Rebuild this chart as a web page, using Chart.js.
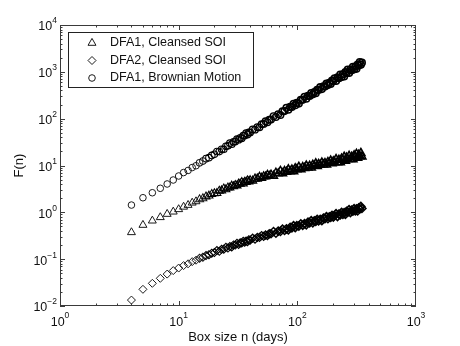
<!DOCTYPE html>
<html lang="en">
<head>
  <meta charset="UTF-8">
  <title>DFA – Box size vs F(n)</title>
  <script src="https://cdn.jsdelivr.net/npm/chart.js"></script>
  <style>
    html, body {
      margin: 0;
      padding: 0;
      background: #fff;
    }
    #wrap {
      width: 460px;
      height: 346px;
    }
  </style>
</head>
<body>
  <div id="wrap"><canvas id="dfaChart" width="460" height="346"></canvas></div>

  <script>
    // box sizes n (days)
    const boxSizes = [4, 5, 6, 7, 8, 9, 10, 11, 12, 13, 14, 15, 16, 17, 18, 19, 20,
      21, 22, 23, 24, 25, 26, 27, 28, 29, 30, 31, 32, 33, 34, 35, 36, 37, 38, 39, 40,
      42, 44, 46, 48, 50, 52, 54, 56, 58, 60,
      63, 66, 69, 72, 75, 78, 81, 84, 87, 90, 93, 96, 99,
      103, 107, 111, 115, 119, 123, 127, 131, 135, 139, 143, 147, 151,
      156, 161, 166, 171, 176, 181, 186, 191, 196, 201, 206,
      212, 218, 224, 230, 236, 242, 248, 254, 260, 266,
      273, 280, 287, 294, 301, 308, 315, 322, 329, 336, 343, 350];

    const dfa1Soi = [0.374, 0.536, 0.662, 0.783, 0.92, 1.03, 1.16, 1.31, 1.43, 1.60, 1.71, 1.89, 1.99,
      2.17, 2.26, 2.45, 2.53,
      2.56, 2.88, 2.92, 3.21, 3.07, 3.36, 3.37, 3.68, 3.56, 3.81, 3.71, 4.08, 4.06, 4.39, 4.13, 4.45,
      4.41, 4.75, 4.55, 4.81,
      4.72, 5.22, 5.22, 5.69, 5.40, 5.83, 5.79, 6.27, 6.01, 6.37,
      6.00, 6.97, 6.76, 7.64, 6.76, 7.56, 7.29, 8.20, 7.48, 8.13, 7.50, 8.62, 8.28,
      9.31, 8.22, 9.15, 8.81, 9.89, 8.97, 9.73, 8.97, 10.3, 9.84, 11.0, 9.66, 10.7,
      10.3, 11.5, 10.4, 11.2, 10.4, 11.8, 11.3, 12.6, 11.1, 12.2, 11.7,
      13.6, 11.7, 13.1, 11.6, 14.0, 13.1, 15.3, 12.6, 14.6, 13.6,
      15.9, 13.7, 15.3, 13.5, 16.3, 15.3, 17.7, 14.6, 16.8, 15.7, 18.4, 15.5];

    const dfa2Soi = [0.0134, 0.0227, 0.0305, 0.039, 0.048, 0.057, 0.0646, 0.0730, 0.0796, 0.0885,
      0.0950, 0.105, 0.110, 0.1195, 0.1245, 0.134, 0.1385,
      0.153, 0.147, 0.162, 0.163, 0.179, 0.173, 0.186, 0.182, 0.201, 0.200, 0.218, 0.206, 0.222,
      0.221, 0.239, 0.230, 0.244, 0.236, 0.258, 0.255,
      0.280, 0.267, 0.291, 0.292, 0.318, 0.307, 0.328, 0.319, 0.350, 0.348,
      0.390, 0.357, 0.397, 0.391, 0.438, 0.409, 0.445, 0.421, 0.479, 0.468, 0.520, 0.470, 0.519,
      0.508, 0.568, 0.528, 0.573, 0.541, 0.614, 0.597, 0.664, 0.598, 0.659, 0.640, 0.708, 0.655,
      0.706, 0.665, 0.753, 0.731, 0.811, 0.730, 0.802, 0.776, 0.859, 0.793, 0.851,
      0.938, 0.813, 0.918, 0.879, 1.00, 0.900, 0.989, 0.902, 1.05, 1.01,
      1.14, 0.986, 1.11, 1.06, 1.20, 1.07, 1.18, 1.07, 1.24, 1.18, 1.34, 1.21];

    const dfa1Brownian = [1.43, 2.05, 2.62, 3.26, 4.03, 4.90, 5.97, 7.07, 7.84, 9.05, 9.88, 11.4,
      12.4, 14.0, 14.7, 16.4, 17.4,
      19.9, 19.8, 22.2, 22.1, 25.7, 26.3, 29.9, 28.5, 32.1, 32.5, 36.6, 35.5, 39.0, 38.1, 43.5, 43.6,
      48.8, 45.9, 50.9, 50.8,
      58.8, 58.3, 65.5, 65.3, 75.8, 77.4, 88.0, 84.0, 94.5, 95.7,
      113, 108, 124, 120, 144, 145, 170, 155, 179, 178, 207, 194, 217,
      210, 251, 252, 293, 267, 307, 305, 353, 331, 369, 350, 413, 407,
      471, 428, 491, 486, 560, 522, 581, 550, 646, 635, 727,
      640, 759, 730, 874, 774, 882, 799, 985, 943, 1121,
      950, 1121, 1075, 1281, 1131, 1286, 1160, 1427, 1361, 1614, 1420, 1570];

    const seriesLabels = ['DFA1, Cleansed SOI', 'DFA2, Cleansed SOI', 'DFA1, Brownian Motion'];
    const xTickExps = [0, 1, 2, 3];
    const yTickExps = [-2, -1, 0, 1, 2, 3, 4];

    const FONT = "'Liberation Sans', Arial, Helvetica, sans-serif";
    const INK = '#111';
    const MARK = '#1a1a1a';

    function toPoints(values) {
      return boxSizes.map((n, i) => ({ x: n, y: values[i] }));
    }

    function supText(exp) {
      return exp < 0 ? '\u2212' + Math.abs(exp) : String(exp);
    }

    // markers get heavier where the original plot overlaps hundreds of them
    function markWidth(c) {
      const n = c.raw ? c.raw.x : 0;
      const t = Math.min(1, Math.max(0, (n - 14) / 70));
      return 1 + 0.6 * t;
    }
    function markColor(c) {
      const n = c.raw ? c.raw.x : 0;
      return n > 16 ? '#000' : MARK;
    }

    // MATLAB-like box, inward ticks, 10^n labels and legend
    const matlabAxes = {
      id: 'matlabAxes',
      afterDatasetsDraw(chart) {
        const { ctx, chartArea: a, scales: { x, y } } = chart;
        ctx.save();
        ctx.strokeStyle = '#3a3a3a';
        ctx.lineWidth = 1;
        ctx.beginPath();
        for (let e = 0; e < 3; e++) {
          for (let k = 1; k <= 9; k++) {
            const px = Math.round(x.getPixelForValue(k * Math.pow(10, e))) + 0.5;
            const len = k === 1 ? 5 : 2.5;
            ctx.moveTo(px, a.bottom); ctx.lineTo(px, a.bottom - len);
            ctx.moveTo(px, a.top); ctx.lineTo(px, a.top + len);
          }
        }
        for (let e = -2; e < 4; e++) {
          for (let k = 1; k <= 9; k++) {
            const py = Math.round(y.getPixelForValue(k * Math.pow(10, e))) + 0.5;
            const len = k === 1 ? 5 : 2.5;
            ctx.moveTo(a.left, py); ctx.lineTo(a.left + len, py);
            ctx.moveTo(a.right, py); ctx.lineTo(a.right - len, py);
          }
        }
        ctx.stroke();
        ctx.strokeRect(a.left + 0.5, a.top + 0.5, a.right - a.left - 1, a.bottom - a.top - 1);
        ctx.restore();
      },
      afterDraw(chart) {
        const { ctx, chartArea: a, scales: { x, y } } = chart;
        ctx.save();
        ctx.fillStyle = INK;
        ctx.textBaseline = 'middle';
        ctx.textAlign = 'left';
        const baseFont = '12.5px ' + FONT;
        const expFont = '8.5px ' + FONT;

        yTickExps.forEach(e => {
          const py = y.getPixelForValue(Math.pow(10, e));
          ctx.font = expFont;
          const wExp = ctx.measureText(supText(e)).width;
          ctx.font = baseFont;
          const wBase = ctx.measureText('10').width;
          const right = a.left - 3;
          ctx.fillText('10', right - wExp - wBase, py + 2);
          ctx.font = expFont;
          ctx.fillText(supText(e), right - wExp, py - 4);
        });

        xTickExps.forEach(e => {
          const px = x.getPixelForValue(Math.pow(10, e));
          ctx.font = expFont;
          const wExp = ctx.measureText(supText(e)).width;
          ctx.font = baseFont;
          const wBase = ctx.measureText('10').width;
          const start = px - (wBase + wExp) / 2;
          ctx.fillText('10', start, a.bottom + 17);
          ctx.font = expFont;
          ctx.fillText(supText(e), start + wBase, a.bottom + 10);
        });

        // legend box
        const lx = 68, ly = 32, lw = 185, lh = 55;
        ctx.fillStyle = '#fff';
        ctx.fillRect(lx, ly, lw, lh);
        ctx.strokeStyle = '#222';
        ctx.lineWidth = 1;
        ctx.strokeRect(lx + 0.5, ly + 0.5, lw, lh);
        chart.data.datasets.forEach((ds, i) => {
          const cy = 43 + i * 17.5;
          ctx.strokeStyle = MARK;
          ctx.fillStyle = 'rgba(0,0,0,0)';
          Chart.helpers.drawPoint(ctx, {
            pointStyle: ds.pointStyle,
            radius: ds.pointRadius,
            borderWidth: 1,
            rotation: 0
          }, 92, cy);
          ctx.fillStyle = INK;
          ctx.font = baseFont;
          ctx.fillText(ds.label, 110, cy);
        });
        ctx.restore();
      }
    };

    const ctx = document.getElementById('dfaChart').getContext('2d');

    const chart = new Chart(ctx, {
      type: 'scatter',
      data: {
        datasets: [{
          label: seriesLabels[0],
          data: toPoints(dfa1Soi),
          pointStyle: 'triangle',
          pointRadius: 4.6,
          borderColor: markColor,
          backgroundColor: 'rgba(0,0,0,0)',
          borderWidth: markWidth
        }, {
          label: seriesLabels[1],
          data: toPoints(dfa2Soi),
          pointStyle: 'rectRot',
          pointRadius: 4,
          borderColor: markColor,
          backgroundColor: 'rgba(0,0,0,0)',
          borderWidth: markWidth
        }, {
          label: seriesLabels[2],
          data: toPoints(dfa1Brownian),
          pointStyle: 'circle',
          pointRadius: 3.3,
          borderColor: markColor,
          backgroundColor: 'rgba(0,0,0,0)',
          borderWidth: markWidth
        }]
      },
      options: {
        responsive: false,
        animation: false,
        layout: { padding: { top: 25, right: 44, left: 0, bottom: 0 } },
        plugins: {
          legend: { display: false },
          tooltip: { enabled: false }
        },
        scales: {
          x: {
            type: 'logarithmic',
            min: 1,
            max: 1000,
            grid: { display: false },
            border: { display: false },
            ticks: { display: false },
            title: {
              display: true,
              text: 'Box size n (days)',
              color: INK,
              font: { family: FONT, size: 13 },
              padding: { top: 0, bottom: 1 }
            },
            afterFit(scale) { scale.height = 40; }
          },
          y: {
            type: 'logarithmic',
            min: 0.01,
            max: 10000,
            grid: { display: false },
            border: { display: false },
            ticks: { display: false },
            title: {
              display: true,
              text: 'F(n)',
              color: INK,
              font: { family: FONT, size: 13 },
              padding: { top: 12, bottom: 0 }
            },
            afterFit(scale) { scale.width = 60; }
          }
        }
      },
      plugins: [matlabAxes]
    });
  </script>
</body>
</html>
